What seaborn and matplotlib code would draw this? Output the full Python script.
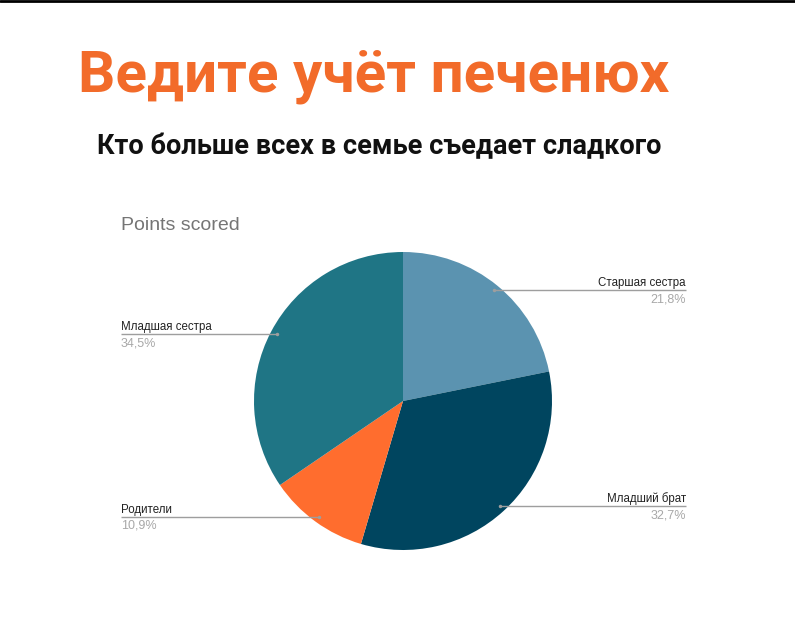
import matplotlib

matplotlib.use("Agg")
import matplotlib.pyplot as plt
import numpy as np
import seaborn as sns

# Data
members = ["Старшая сестра", "Младший брат", "Родители", "Младшая сестра"]
shares = [21.8, 32.7, 10.9, 34.5]
pct_labels = ["21,8%", "32,7%", "10,9%", "34,5%"]
colors = ["#5b93b0", "#00455f", "#ff6d2e", "#1f7585"]

sns.set_theme(style="white")
plt.rcParams["font.family"] = ["Liberation Sans", "DejaVu Sans"]

W, H = 795, 623
fig = plt.figure(figsize=(W / 100, H / 100), dpi=100)
fig.patch.set_facecolor("white")

# pie geometry in pixels
cx, cy, R = 403, 401, 149
ax_l, ax_r, ax_t, ax_b = 100, 706, 235, 567
ax = fig.add_axes([ax_l / W, 1 - ax_b / H, (ax_r - ax_l) / W, (ax_b - ax_t) / H])

wedges, _ = ax.pie(
    shares,
    colors=colors,
    startangle=90,
    counterclock=False,
    radius=1,
    wedgeprops=dict(linewidth=0),
)
ax.set_xlim((ax_l - cx) / R, (ax_r - cx) / R)
ax.set_ylim((cy - ax_b) / R, (cy - ax_t) / R)
ax.set_aspect("equal")
ax.axis("off")

left_x = (121 - cx) / R
right_x = (686 - cx) / R
for w, name, pct in zip(wedges, members, pct_labels):
    mid = np.deg2rad((w.theta1 + w.theta2) / 2)
    px, py = 0.96 * np.cos(mid), 0.96 * np.sin(mid)
    if px >= 0:
        ex, ha = right_x, "right"
    else:
        ex, ha = left_x, "left"
    ax.plot([px, ex], [py, py], color="#9e9e9e", lw=1, solid_capstyle="butt")
    ax.plot(px, py, "o", color="#9e9e9e", ms=2.5, mec="none")
    ax.text(ex, py + 4 / R, name, ha=ha, va="baseline", fontsize=8.3, color="#222222")
    ax.text(ex, py - 3 / R, pct, ha=ha, va="top", fontsize=9, color="#a8a8a8")

# titles
fig.text(78 / W, 1 - 92 / H, "Ведите учёт печенюх", fontsize=42, fontweight="bold",
         color="#f26b2a", family=["Roboto", "DejaVu Sans"], va="baseline")
fig.text(97 / W, 1 - 154 / H, "Кто больше всех в семье съедает сладкого", fontsize=19.5,
         fontweight="bold", color="#111111", family=["Roboto", "DejaVu Sans"], va="baseline")
fig.text(121 / W, 1 - 230 / H, "Points scored", fontsize=14, color="#757575", va="baseline")

# top border line
fig.add_artist(plt.Line2D([0, 1], [1 - 1 / H, 1 - 1 / H], color="black", lw=2,
                          transform=fig.transFigure))

fig.savefig("out.png", dpi=100, facecolor="white")
